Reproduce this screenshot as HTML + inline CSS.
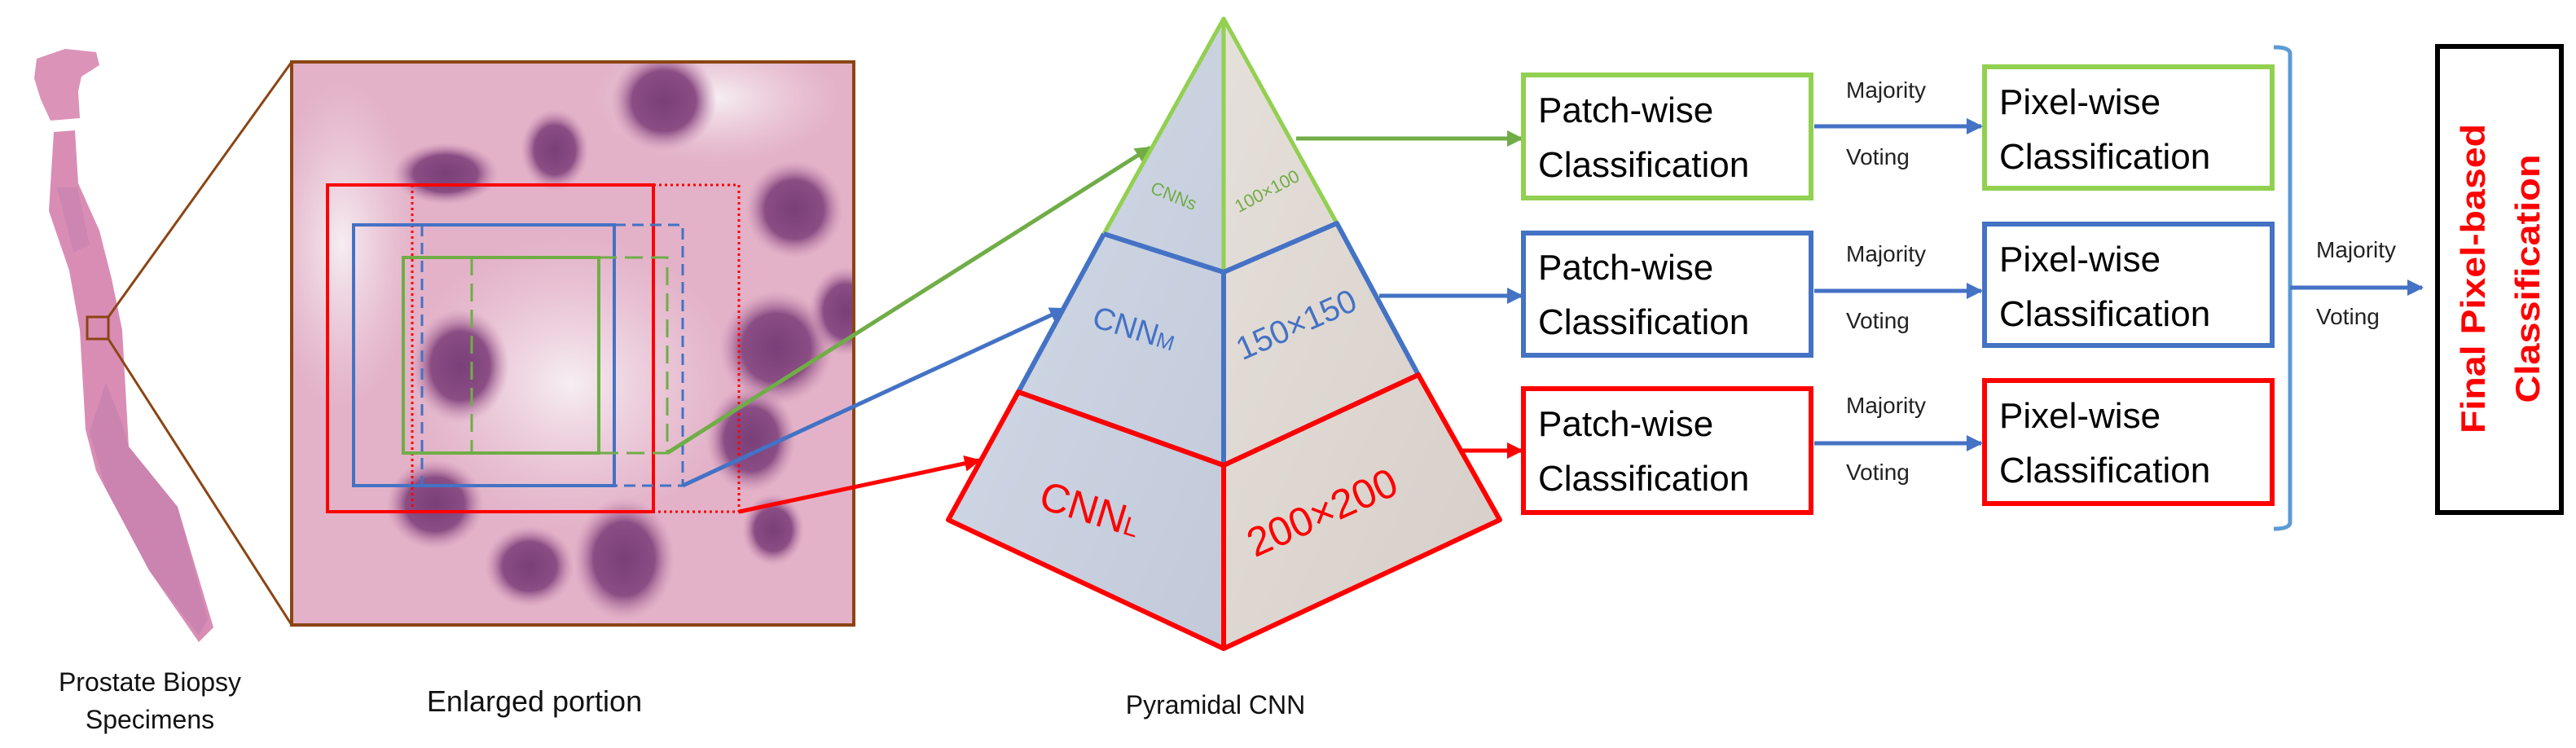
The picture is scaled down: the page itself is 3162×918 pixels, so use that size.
<!DOCTYPE html>
<html><head><meta charset="utf-8"><style>html,body{margin:0;padding:0;background:#fff}svg{display:block}</style></head>
<body>
<svg width="3162" height="918" viewBox="0 0 3162 918" xmlns="http://www.w3.org/2000/svg" font-family="Liberation Sans, sans-serif">
<defs>
<radialGradient id="nuc"><stop offset="0" stop-color="#7a3f78"/><stop offset="0.6" stop-color="#8a4d84"/><stop offset="1" stop-color="#c88bb0" stop-opacity="0"/></radialGradient>
<radialGradient id="wht"><stop offset="0" stop-color="#f6eef2"/><stop offset="1" stop-color="#f0d8e4" stop-opacity="0"/></radialGradient>
<linearGradient id="lf" x1="0" y1="0" x2="1" y2="1"><stop offset="0" stop-color="#d3dbe8"/><stop offset="1" stop-color="#c2c9d9"/></linearGradient>
<linearGradient id="rf" x1="0" y1="0" x2="1" y2="1"><stop offset="0" stop-color="#e6e0da"/><stop offset="1" stop-color="#d6cec8"/></linearGradient>
<clipPath id="tc"><rect x="358" y="76" width="690" height="691"/></clipPath>
<marker id="ab" viewBox="0 0 10 10" refX="9" refY="5" markerWidth="20" markerHeight="20" orient="auto" markerUnits="userSpaceOnUse"><path d="M0,0 L10,5 L0,10z" fill="#4472c4"/></marker>
<marker id="ag2" viewBox="0 0 10 10" refX="9" refY="5" markerWidth="20" markerHeight="20" orient="auto" markerUnits="userSpaceOnUse"><path d="M0,0 L10,5 L0,10z" fill="#70ad47"/></marker>
<marker id="ar" viewBox="0 0 10 10" refX="9" refY="5" markerWidth="20" markerHeight="20" orient="auto" markerUnits="userSpaceOnUse"><path d="M0,0 L10,5 L0,10z" fill="#ff0000"/></marker>
</defs>

<!-- biopsy strip -->
<polygon points="45,72 80,60 118,64 122,80 100,94 96,112 98,145 62,148 50,122 42,96" fill="#dc93b8"/>
<polygon points="66,162 92,160 96,225 122,283 137,342 150,405 158,548 218,622 262,770 244,788 183,700 118,578 105,527 98,405 85,332 60,259" fill="#d98db5"/>
<polygon points="130,470 150,520 158,548 200,600 218,622 255,760 244,780 183,700 130,600 110,530" fill="#b87aa8" opacity="0.45"/>
<polygon points="70,230 95,230 110,300 90,310" fill="#b87aa8" opacity="0.35"/>
<rect x="107" y="389" width="26" height="27" fill="none" stroke="#8b4513" stroke-width="3"/>
<line x1="133" y1="389" x2="358" y2="76" stroke="#8b4513" stroke-width="3"/>
<line x1="133" y1="416" x2="358" y2="767" stroke="#8b4513" stroke-width="3"/>

<!-- enlarged tissue -->
<g clip-path="url(#tc)">
<rect x="358" y="76" width="690" height="691" fill="#e3b2c8"/>
<ellipse cx="420" cy="300" rx="90" ry="200" fill="url(#wht)"/>
<ellipse cx="700" cy="470" rx="200" ry="180" fill="url(#wht)"/>
<ellipse cx="880" cy="120" rx="150" ry="80" fill="url(#wht)"/>
<ellipse cx="815" cy="124" rx="65" ry="62" fill="url(#nuc)"/>
<ellipse cx="681" cy="184" rx="42" ry="50" fill="url(#nuc)"/>
<ellipse cx="547" cy="213" rx="65" ry="38" fill="url(#nuc)"/>
<ellipse cx="565" cy="449" rx="60" ry="70" fill="url(#nuc)"/>
<ellipse cx="975" cy="257" rx="60" ry="60" fill="url(#nuc)"/>
<ellipse cx="953" cy="427" rx="70" ry="70" fill="url(#nuc)"/>
<ellipse cx="1038" cy="382" rx="45" ry="55" fill="url(#nuc)"/>
<ellipse cx="922" cy="539" rx="55" ry="65" fill="url(#nuc)"/>
<ellipse cx="766" cy="686" rx="62" ry="75" fill="url(#nuc)"/>
<ellipse cx="650" cy="695" rx="55" ry="50" fill="url(#nuc)"/>
<ellipse cx="534" cy="619" rx="60" ry="55" fill="url(#nuc)"/>
<ellipse cx="949" cy="650" rx="38" ry="44" fill="url(#nuc)"/>
</g>
<rect x="358" y="76" width="690" height="691" fill="none" stroke="#8b4513" stroke-width="4"/>

<rect x="402" y="227" width="400" height="401" fill="none" stroke="#ff0000" stroke-width="4"/>
<polyline points="802,227 907,227 907,628 802,628" fill="none" stroke="#ff0000" stroke-width="3" stroke-dasharray="3,4"/>
<line x1="506" y1="227" x2="506" y2="628" stroke="#ff0000" stroke-width="3" stroke-dasharray="3,4"/>
<rect x="434" y="276" width="320" height="320" fill="none" stroke="#4472c4" stroke-width="4"/>
<polyline points="754,276 838,276 838,596 754,596" fill="none" stroke="#4472c4" stroke-width="3" stroke-dasharray="14,8"/>
<line x1="518" y1="276" x2="518" y2="596" stroke="#4472c4" stroke-width="3" stroke-dasharray="14,8"/>
<rect x="495" y="316" width="240" height="240" fill="none" stroke="#70ad47" stroke-width="4"/>
<polyline points="735,316 819,316 819,556 735,556" fill="none" stroke="#70ad47" stroke-width="3" stroke-dasharray="22,10"/>
<line x1="579" y1="316" x2="579" y2="556" stroke="#70ad47" stroke-width="3" stroke-dasharray="22,10"/>

<line x1="819" y1="556" x2="1412" y2="181" stroke="#70ad47" stroke-width="5" marker-end="url(#ag2)"/>
<line x1="838" y1="596" x2="1307" y2="379" stroke="#4472c4" stroke-width="5" marker-end="url(#ab)"/>
<line x1="907" y1="628" x2="1202" y2="565" stroke="#ff0000" stroke-width="5" marker-end="url(#ar)"/>

<polygon points="1502,23 1355,287 1250,481 1164,638 1502,796" fill="url(#lf)"/>
<polygon points="1502,23 1641,274 1741,460 1841,638 1502,796" fill="url(#rf)"/>
<g fill="none" stroke-linejoin="round">
<polyline points="1355,287 1502,23 1641,274" stroke="#92d050" stroke-width="5"/>
<line x1="1502" y1="23" x2="1502" y2="334" stroke="#92d050" stroke-width="5"/>
<polyline points="1355,287 1502,334 1641,274 1741,460 1502,571 1250,481 1355,287" stroke="#4472c4" stroke-width="6"/>
<line x1="1502" y1="334" x2="1502" y2="571" stroke="#4472c4" stroke-width="6"/>
<polygon points="1250,481 1502,571 1741,460 1841,638 1502,796 1164,638" stroke="#ff0000" stroke-width="6"/>
<line x1="1502" y1="571" x2="1502" y2="796" stroke="#ff0000" stroke-width="6"/>
</g>
<text x="1441" y="248" font-size="22" fill="#70ad47" text-anchor="middle" transform="rotate(22 1441 240)">CNNs</text>
<text x="1555" y="242" font-size="22" fill="#70ad47" text-anchor="middle" transform="rotate(-28 1555 234)">100×100</text>
<text x="1392" y="416" font-size="38" fill="#4472c4" text-anchor="middle" transform="rotate(17 1392 404)">CNN<tspan font-size="26">M</tspan></text>
<text x="1591" y="412" font-size="40" fill="#4472c4" text-anchor="middle" transform="rotate(-24 1591 398)">150×150</text>
<text x="1338" y="642" font-size="50" fill="#ff0000" text-anchor="middle" transform="rotate(17 1338 626)">CNN<tspan font-size="32">L</tspan></text>
<text x="1623" y="646" font-size="50" fill="#ff0000" text-anchor="middle" transform="rotate(-24 1623 629)">200×200</text>

<line x1="1591" y1="170" x2="1868" y2="170" stroke="#70ad47" stroke-width="5" marker-end="url(#ag2)"/>
<line x1="1693" y1="363" x2="1868" y2="363" stroke="#4472c4" stroke-width="5" marker-end="url(#ab)"/>
<line x1="1795" y1="553" x2="1868" y2="553" stroke="#ff0000" stroke-width="5" marker-end="url(#ar)"/>

<g fill="#fff" stroke-width="6">
<rect x="1870" y="92" width="353" height="151" stroke="#92d050"/>
<rect x="1870" y="286" width="353" height="150" stroke="#4472c4"/>
<rect x="1870" y="477" width="353" height="152" stroke="#ff0000"/>
<rect x="2436" y="82" width="353" height="149" stroke="#92d050"/>
<rect x="2436" y="275" width="353" height="149" stroke="#4472c4"/>
<rect x="2436" y="467" width="353" height="151" stroke="#ff0000"/>
</g>
<g font-size="44" fill="#000">
<text x="1888" y="150">Patch-wise</text><text x="1888" y="217">Classification</text>
<text x="1888" y="343">Patch-wise</text><text x="1888" y="410">Classification</text>
<text x="1888" y="535">Patch-wise</text><text x="1888" y="602">Classification</text>
<text x="2454" y="140">Pixel-wise</text><text x="2454" y="207">Classification</text>
<text x="2454" y="333">Pixel-wise</text><text x="2454" y="400">Classification</text>
<text x="2454" y="525">Pixel-wise</text><text x="2454" y="592">Classification</text>
</g>

<line x1="2227" y1="155" x2="2432" y2="155" stroke="#4472c4" stroke-width="5" marker-end="url(#ab)"/>
<line x1="2227" y1="357" x2="2432" y2="357" stroke="#4472c4" stroke-width="5" marker-end="url(#ab)"/>
<line x1="2227" y1="544" x2="2432" y2="544" stroke="#4472c4" stroke-width="5" marker-end="url(#ab)"/>
<g font-size="28" fill="#222">
<text x="2266" y="120">Majority</text><text x="2266" y="202">Voting</text>
<text x="2266" y="321">Majority</text><text x="2266" y="403">Voting</text>
<text x="2266" y="507">Majority</text><text x="2266" y="589">Voting</text>
<text x="2843" y="316">Majority</text><text x="2843" y="398">Voting</text>
</g>

<path d="M2791,58 Q2811,58 2811,66 L2811,641 Q2811,649 2791,649" fill="none" stroke="#5b9bd5" stroke-width="5"/>
<line x1="2811" y1="353" x2="2973" y2="353" stroke="#4472c4" stroke-width="5" marker-end="url(#ab)"/>

<rect x="2992" y="57" width="152" height="572" fill="#fff" stroke="#000" stroke-width="6"/>
<text font-size="42" font-weight="bold" fill="#ff0000" text-anchor="middle" transform="translate(3050 342) rotate(-90)" textLength="380" lengthAdjust="spacingAndGlyphs">Final Pixel-based</text>
<text font-size="42" font-weight="bold" fill="#ff0000" text-anchor="middle" transform="translate(3117 342) rotate(-90)" textLength="305" lengthAdjust="spacingAndGlyphs">Classification</text>

<g font-size="32" fill="#111" text-anchor="middle">
<text x="184" y="848">Prostate Biopsy</text>
<text x="184" y="894">Specimens</text>
<text x="656" y="873" font-size="36">Enlarged  portion</text>
<text x="1492" y="876">Pyramidal CNN</text>
</g>
</svg>
</body></html>
